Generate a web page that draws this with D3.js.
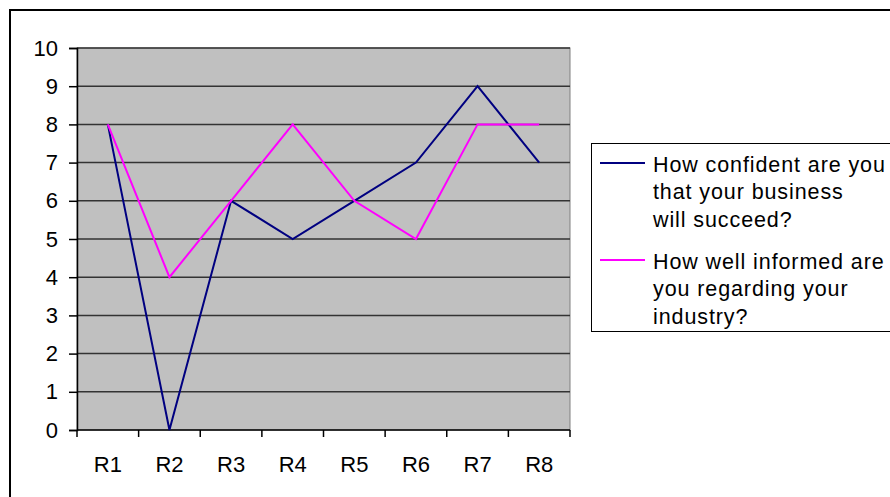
<!DOCTYPE html>
<html>
<head>
<meta charset="utf-8">
<script src="https://cdn.jsdelivr.net/npm/d3@7"></script>
<style>
  html, body { margin: 0; padding: 0; background: #fff; overflow: hidden; }
  svg { display: block; }
  text { font-family: "Liberation Sans", Arial, sans-serif; fill: #000; }
</style>
</head>
<body>
<svg id="chart" width="890" height="497"></svg>
<script>
// Survey rounds and the two scored questions
const categories = ["R1", "R2", "R3", "R4", "R5", "R6", "R7", "R8"];
const confidentValues = [8, 0, 6, 5, 6, 7, 9, 7];
const informedValues = [8, 4, 6, 8, 6, 5, 8, 8];
const yTicks = [0, 1, 2, 3, 4, 5, 6, 7, 8, 9, 10];
const seriesNames = [
  ["How confident are you", "that your business", "will succeed?"],
  ["How well informed are", "you regarding your", "industry?"]
];
const seriesColors = ["#000080", "#FF00FF"];

const svg = d3.select("#chart");
const plot = { left: 77, right: 570, top: 48, bottom: 430 };
const axisFont = 22;
const legendFont = 21.5;

// Outer chart frame (runs past the bottom and right of the view)
svg.append("rect")
  .attr("x", 10).attr("y", 10)
  .attr("width", 900).attr("height", 500)
  .attr("fill", "none").attr("stroke", "#000").attr("stroke-width", 2);

const x = d3.scaleBand().domain(categories).range([plot.left, plot.right]);
const y = d3.scaleLinear().domain([0, 10]).range([plot.bottom, plot.top]);
const cx = d => x(d) + x.bandwidth() / 2;

// Plot area
svg.append("rect")
  .attr("x", plot.left).attr("y", plot.top)
  .attr("width", plot.right - plot.left).attr("height", plot.bottom - plot.top)
  .attr("fill", "#C0C0C0").attr("stroke", "#808080").attr("stroke-width", 1);

// Horizontal gridlines
svg.append("g").selectAll("line")
  .data(yTicks.filter(t => t > 0))
  .join("line")
  .attr("x1", plot.left).attr("x2", plot.right)
  .attr("y1", d => y(d)).attr("y2", d => y(d))
  .attr("stroke", "#333").attr("stroke-width", 1.5);

// Y axis
const yAxis = svg.append("g")
  .attr("transform", `translate(${plot.left},0)`)
  .call(d3.axisLeft(y).tickValues(yTicks).tickFormat(d3.format("d")).tickSize(8).tickPadding(11));
yAxis.selectAll("path, line").attr("stroke", "#000").attr("stroke-width", 1.5);
yAxis.selectAll("text").style("font-size", axisFont + "px")
  .style("font-family", "'Liberation Sans', Arial, sans-serif");

// X axis: ticks on category boundaries, labels centered
const xAxisG = svg.append("g").attr("transform", `translate(0,${plot.bottom})`);
xAxisG.append("line")
  .attr("x1", plot.left).attr("x2", plot.right)
  .attr("stroke", "#000").attr("stroke-width", 1.5);
const boundaries = categories.map(c => x(c)).concat([plot.right]);
xAxisG.selectAll("line.tick")
  .data(boundaries)
  .join("line")
  .attr("class", "tick")
  .attr("x1", d => d).attr("x2", d => d)
  .attr("y1", 0).attr("y2", 7)
  .attr("stroke", "#000").attr("stroke-width", 1.5);
xAxisG.selectAll("text")
  .data(categories)
  .join("text")
  .attr("x", d => cx(d))
  .attr("y", 42)
  .attr("text-anchor", "middle")
  .style("font-size", axisFont + "px")
  .text(d => d);

// Data lines
const line = d3.line()
  .x((d, i) => cx(categories[i]))
  .y(d => y(d));
[confidentValues, informedValues].forEach((vals, i) => {
  svg.append("path")
    .datum(vals)
    .attr("d", line)
    .attr("fill", "none")
    .attr("stroke", seriesColors[i])
    .attr("stroke-width", 2)
    .attr("stroke-linejoin", "miter");
});

// Legend
const legend = svg.append("g");
legend.append("rect")
  .attr("x", 591.5).attr("y", 143.5)
  .attr("width", 320).attr("height", 188)
  .attr("fill", "#fff").attr("stroke", "#000").attr("stroke-width", 1);
const lineGap = 27.5;
const swatchY = [163, 260];
seriesNames.forEach((lines, i) => {
  legend.append("line")
    .attr("x1", 600).attr("x2", 645)
    .attr("y1", swatchY[i]).attr("y2", swatchY[i])
    .attr("stroke", seriesColors[i]).attr("stroke-width", 2);
  lines.forEach((t, j) => {
    legend.append("text")
      .attr("x", 653)
      .attr("y", swatchY[i] + 8.5 + j * lineGap)
      .style("font-size", legendFont + "px")
      .style("letter-spacing", "0.9px")
      .text(t);
  });
});
</script>
</body>
</html>
